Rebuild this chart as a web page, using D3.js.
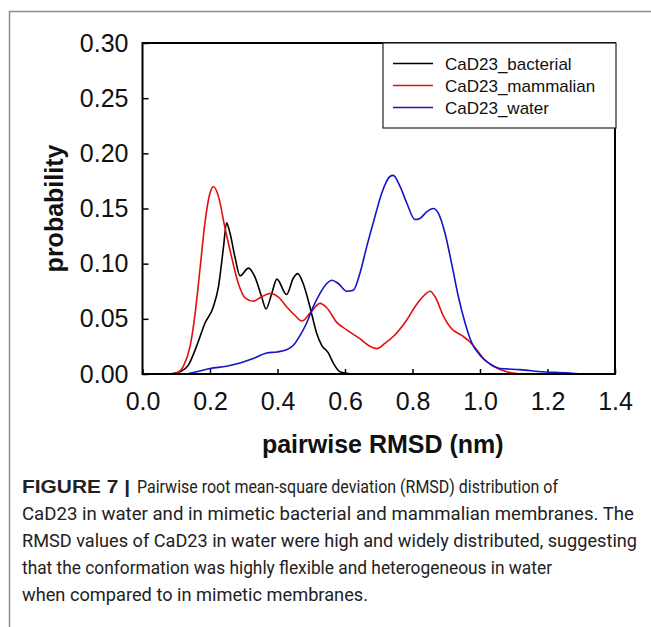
<!DOCTYPE html>
<html>
<head>
<meta charset="utf-8">
<script src="https://cdn.jsdelivr.net/npm/d3@7"></script>
<style>
  body { margin: 0; background: #fff; }
  svg { display: block; }
</style>
</head>
<body>
<div id="chart"></div>
<script>
// axis ticks
const xTicks = [0, 0.2, 0.4, 0.6, 0.8, 1.0, 1.2, 1.4];
const yTicks = [0, 0.05, 0.10, 0.15, 0.20, 0.25, 0.30];

// series: pairwise RMSD (nm) and probability
const seriesNames = ['CaD23_bacterial', 'CaD23_mammalian', 'CaD23_water'];
const seriesColors = ['#000000', '#e01010', '#1414c8'];

const bacterialX = [0.082, 0.111, 0.136, 0.16, 0.185, 0.21, 0.225, 0.24, 0.249, 0.259, 0.274, 0.289, 0.314, 0.333, 0.353, 0.366, 0.383, 0.398, 0.427, 0.447, 0.46, 0.476, 0.496, 0.516, 0.531, 0.551, 0.565, 0.585, 0.62];
const bacterialY = [0, 0.002, 0.008, 0.025, 0.046, 0.061, 0.079, 0.115, 0.137, 0.128, 0.106, 0.089, 0.096, 0.088, 0.070, 0.059, 0.073, 0.086, 0.072, 0.087, 0.091, 0.082, 0.061, 0.037, 0.026, 0.019, 0.010, 0.002, 0];

const mammalianX = [0.082, 0.101, 0.121, 0.141, 0.156, 0.17, 0.185, 0.2, 0.21, 0.225, 0.244, 0.264, 0.284, 0.304, 0.328, 0.353, 0.378, 0.402, 0.427, 0.452, 0.472, 0.496, 0.526, 0.546, 0.575, 0.605, 0.644, 0.669, 0.694, 0.719, 0.743, 0.783, 0.812, 0.837, 0.852, 0.867, 0.891, 0.916, 0.946, 0.97, 0.99, 1.01, 1.04, 1.079, 1.119];
const mammalianY = [0, 0.001, 0.007, 0.025, 0.055, 0.094, 0.137, 0.164, 0.170, 0.161, 0.133, 0.106, 0.082, 0.069, 0.066, 0.070, 0.073, 0.070, 0.061, 0.053, 0.048, 0.055, 0.064, 0.060, 0.047, 0.040, 0.032, 0.026, 0.023, 0.028, 0.034, 0.049, 0.063, 0.072, 0.075, 0.070, 0.053, 0.041, 0.035, 0.029, 0.022, 0.014, 0.007, 0.002, 0];

const waterX = [0.131, 0.16, 0.2, 0.249, 0.289, 0.328, 0.368, 0.398, 0.427, 0.447, 0.467, 0.486, 0.506, 0.526, 0.546, 0.561, 0.58, 0.605, 0.625, 0.644, 0.664, 0.689, 0.709, 0.733, 0.743, 0.763, 0.783, 0.807, 0.822, 0.842, 0.862, 0.876, 0.896, 0.916, 0.936, 0.956, 0.976, 1.0, 1.025, 1.059, 1.119, 1.187, 1.257, 1.296];
const waterY = [0, 0.002, 0.005, 0.007, 0.010, 0.014, 0.019, 0.020, 0.022, 0.026, 0.035, 0.046, 0.061, 0.073, 0.082, 0.085, 0.082, 0.075, 0.076, 0.091, 0.115, 0.143, 0.164, 0.179, 0.180, 0.170, 0.155, 0.140, 0.141, 0.147, 0.150, 0.146, 0.128, 0.100, 0.070, 0.046, 0.028, 0.017, 0.010, 0.005, 0.004, 0.002, 0.001, 0];

const captionLabel = 'FIGURE 7 |';
const captionLines = [
  'Pairwise root mean-square deviation (RMSD) distribution of',
  'CaD23 in water and in mimetic bacterial and mammalian membranes. The',
  'RMSD values of CaD23 in water were high and widely distributed, suggesting',
  'that the conformation was highly flexible and heterogeneous in water',
  'when compared to in mimetic membranes.'
];

const W = 651, H = 627;
const plot = {left: 142.5, right: 615, top: 43, bottom: 374};
// caption line extents in the figure (its face is narrower than ours)
const captionLeft = [137, 22, 22, 22, 22];
const captionRight = [558, 634, 637, 552, 368];

const svg = d3.select('#chart').append('svg')
  .attr('width', W)
  .attr('height', H);

// figure border (left and top only)
svg.append('path')
  .attr('d', `M9.5,${H} V11.5 H${W}`)
  .attr('fill', 'none')
  .attr('stroke', '#8c8c8c')
  .attr('stroke-width', 1.5);

const x = d3.scaleLinear().domain([0, 1.4]).range([plot.left, plot.right]);
const y = d3.scaleLinear().domain([0, 0.30]).range([plot.bottom, plot.top]);

const tickFont = '"Liberation Sans", Arial, sans-serif';

// x axis
const xAxis = svg.append('g')
  .attr('transform', `translate(0,${plot.bottom})`)
  .call(d3.axisBottom(x).tickValues(xTicks).tickFormat(d3.format('.1f'))
    .tickSizeInner(-5).tickSizeOuter(0).tickPadding(18));
xAxis.select('.domain').remove();
xAxis.selectAll('line').attr('stroke', '#000').attr('stroke-width', 1.5);
xAxis.selectAll('text').attr('font-family', tickFont).attr('font-size', 25).attr('fill', '#111');

// y axis
const yAxis = svg.append('g')
  .attr('transform', `translate(${plot.left},0)`)
  .call(d3.axisLeft(y).tickValues(yTicks).tickFormat(d3.format('.2f'))
    .tickSizeInner(-6).tickSizeOuter(0).tickPadding(14));
yAxis.select('.domain').remove();
yAxis.selectAll('line').attr('stroke', '#000').attr('stroke-width', 1.5);
yAxis.selectAll('text').attr('font-family', tickFont).attr('font-size', 25).attr('fill', '#111');

// series
const series = [
  {xs: bacterialX, ys: bacterialY},
  {xs: mammalianX, ys: mammalianY},
  {xs: waterX, ys: waterY}
];
const line = d3.line()
  .x(d => x(d[0]))
  .y(d => y(d[1]))
  .curve(d3.curveMonotoneX);

series.forEach((s, i) => {
  svg.append('path')
    .datum(d3.zip(s.xs, s.ys))
    .attr('fill', 'none')
    .attr('stroke', seriesColors[i])
    .attr('stroke-width', 1.6)
    .attr('d', line);
});

// plot frame
svg.append('rect')
  .attr('x', plot.left)
  .attr('y', plot.top)
  .attr('width', plot.right - plot.left)
  .attr('height', plot.bottom - plot.top)
  .attr('fill', 'none')
  .attr('stroke', '#000')
  .attr('stroke-width', 2);

// legend
const legend = svg.append('g').attr('transform', 'translate(383,43)');
legend.append('rect')
  .attr('width', 233)
  .attr('height', 85)
  .attr('fill', '#fff')
  .attr('stroke', '#222')
  .attr('stroke-width', 1.2);
seriesNames.forEach((name, i) => {
  const row = legend.append('g').attr('transform', `translate(0,${20.5 + i * 22})`);
  row.append('line')
    .attr('x1', 10).attr('x2', 50)
    .attr('stroke', seriesColors[i])
    .attr('stroke-width', 1.6);
  row.append('text')
    .attr('x', 62)
    .attr('y', 6)
    .attr('font-family', tickFont)
    .attr('font-size', 17)
    .attr('fill', '#111')
    .text(name);
});

// axis titles
svg.append('text')
  .attr('x', (plot.left + plot.right) / 2 + 4)
  .attr('y', 453)
  .attr('text-anchor', 'middle')
  .attr('font-family', tickFont)
  .attr('font-weight', 'bold')
  .attr('font-size', 25)
  .attr('fill', '#111')
  .text('pairwise RMSD (nm)');

svg.append('text')
  .attr('transform', `translate(63,${(plot.top + plot.bottom) / 2}) rotate(-90)`)
  .attr('text-anchor', 'middle')
  .attr('font-family', tickFont)
  .attr('font-weight', 'bold')
  .attr('font-size', 25)
  .attr('fill', '#111')
  .text('probability');

// caption
const caption = svg.append('g')
  .attr('font-family', 'Roboto, "Liberation Sans", sans-serif')
  .attr('font-size', 18)
  .attr('fill', '#222');
caption.append('text')
  .attr('x', 22)
  .attr('y', 493)
  .attr('font-family', tickFont)
  .attr('font-weight', 'bold')
  .attr('textLength', 108)
  .attr('lengthAdjust', 'spacingAndGlyphs')
  .text(captionLabel);
captionLines.forEach((t, i) => {
  caption.append('text')
    .attr('x', captionLeft[i])
    .attr('y', 493 + i * 27)
    .attr('textLength', captionRight[i] - captionLeft[i])
    .attr('lengthAdjust', 'spacingAndGlyphs')
    .text(t);
});
</script>
</body>
</html>
